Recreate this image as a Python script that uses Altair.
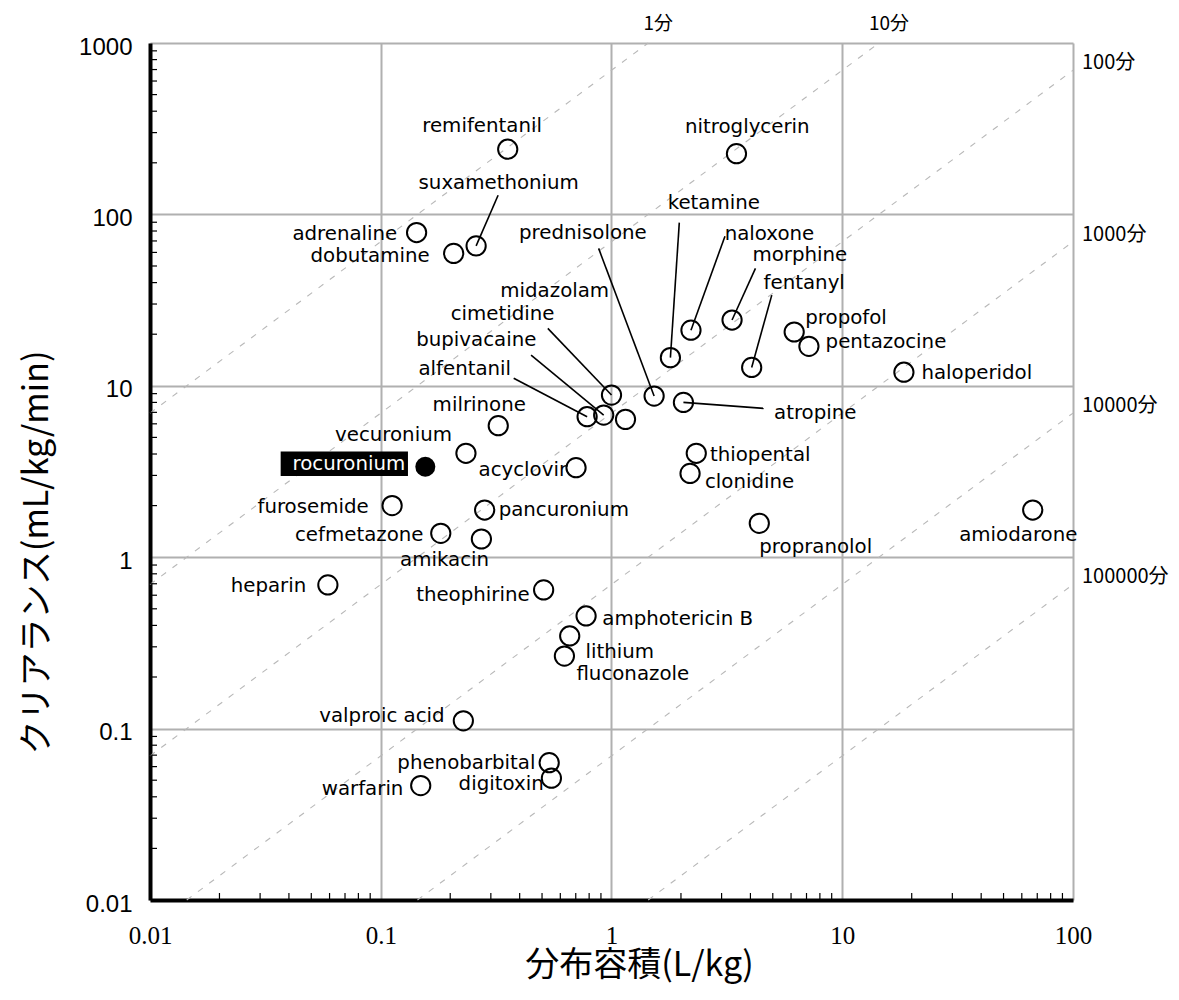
import altair as alt
import pandas as pd

# ---------------- data ----------------
drugs = ["remifentanil", "nitroglycerin", "adrenaline", "dobutamine", "suxamethonium",
         "prednisolone", "ketamine", "naloxone", "morphine", "fentanyl",
         "propofol", "pentazocine", "haloperidol", "midazolam", "cimetidine",
         "bupivacaine", "alfentanil", "atropine", "milrinone", "vecuronium",
         "rocuronium", "acyclovir", "thiopental", "clonidine", "furosemide",
         "pancuronium", "cefmetazone", "amikacin", "propranolol", "amiodarone",
         "heparin", "theophirine", "amphotericin B", "lithium", "fluconazole",
         "valproic acid", "phenobarbital", "digitoxin", "warfarin"]
vd = [0.355, 3.48, 0.143, 0.207, 0.259,
      1.53, 1.80, 2.21, 3.33, 4.05,
      6.19, 7.17, 18.5, 1.15, 1.00,
      0.925, 0.784, 2.05, 0.323, 0.234,
      0.156, 0.702, 2.33, 2.19, 0.112,
      0.282, 0.182, 0.273, 4.37, 66.9,
      0.059, 0.508, 0.776, 0.659, 0.625,
      0.228, 0.537, 0.549, 0.149]
cl = [240, 226, 78.4, 59.2, 65.5,
      8.71, 14.6, 21.1, 24.2, 12.8,
      20.6, 17.0, 12.0, 6.37, 8.83,
      6.75, 6.6, 8.0, 5.85, 4.04,
      3.37, 3.33, 4.04, 3.08, 2.0,
      1.885, 1.378, 1.277, 1.577, 1.885,
      0.689, 0.644, 0.454, 0.347, 0.265,
      0.111, 0.0633, 0.0514, 0.0465]

# label placement (pixel offsets from the point) and alignment
label_dx = [-25.6, 10.8, -19.3, -24, 22.6,
            -71.3, 43.4, 33.7, 20.4, 11.9,
            11.1, 16.7, 17.5, -70.8, -57,
            -67.3, -76, 90.6, -19, -14,
            -20, -9, 13.7, 14.9, -23.4,
            14, -17.3, -36.8, 0, -14.4,
            -21.6, -14, 16.2, 15.7, 12,
            -18.7, -13.7, -7.7, -17.3]
label_dy = [-23, -26.6, 1, 2.4, -62.4,
            -162.7, -154.4, -96.7, -65, -84,
            -14.4, -4.3, 1, -128.6, -81,
            -75, -47.4, 11, -20.7, -18.3,
            -2.4, 2.3, 1.7, 8.4, 1,
            0, 1.7, 21, 24, 25,
            1, 5, 3.3, 15.7, 18,
            -4.7, 0, 5.7, 3.6]
label_align = ["center", "center", "right", "right", "center",
               "center", "center", "left", "left", "left",
               "left", "left", "left", "center", "right",
               "right", "right", "left", "center", "right",
               "right", "right", "left", "left", "right",
               "left", "right", "center", "left", "center",
               "right", "right", "left", "left", "left",
               "right", "right", "right", "right"]

# leader lines: drug and start offset (pixels from the point)
leader_drug = ["suxamethonium", "prednisolone", "ketamine", "naloxone", "morphine",
               "fentanyl", "cimetidine", "bupivacaine", "alfentanil", "atropine"]
leader_sx = [22, -55.5, 8.9, 34, 23.4, 20.1, -63.7, -72.6, -73.4, 80.2]
leader_sy = [-50.7, -147.7, -135, -94, -51.7, -72.3, -66.7, -60, -38.4, 6]

# half-life reference lines (minutes)
tau = [1, 10, 100, 1000, 10000, 100000]
tau_labels = ["1分", "10分", "100分", "1000分", "10000分", "100000分"]
x_ticks = [0.01, 0.1, 1, 10, 100]
y_ticks = [0.01, 0.1, 1, 10, 100, 1000]

# ---------------- layout ----------------
W, H = 923, 857
DECX, DECY = W / 4, H / 5
FONT = "DejaVu Sans"
JP = "Noto Sans CJK JP"

df = pd.DataFrame({"drug": drugs, "vd": vd, "cl": cl,
                   "dx": label_dx, "dy": label_dy, "align": label_align})
df["lx"] = df["vd"] * 10 ** (df["dx"] / DECX)
df["ly"] = df["cl"] * 10 ** (-df["dy"] / DECY)

lead = pd.DataFrame({"drug": leader_drug, "sx": leader_sx, "sy": leader_sy})
lead = lead.merge(df[["drug", "vd", "cl"]], on="drug")
lead["vd2"] = lead["vd"] * 10 ** (lead["sx"] / DECX)
lead["cl2"] = lead["cl"] * 10 ** (-lead["sy"] / DECY)

K = 1000 * 0.6931
rows = []
for t, lab in zip(tau, tau_labels):
    x0, y0 = 0.01, K * 0.01 / t
    if y0 < 0.01:
        x0, y0 = 0.01 * t / K, 0.01
    x1, y1 = 100.0, K * 100 / t
    if y1 > 1000:
        x1, y1 = 1000 * t / K, 1000.0
    rows.append({"vd": x0, "cl": y0, "vd2": x1, "cl2": y1, "lab": lab, "top": y1 >= 1000})
tl = pd.DataFrame(rows)

minors = [k * 10 ** d for d in range(-2, 3) for k in range(2, 10)]
minx = pd.DataFrame({"vd": [m for m in minors if m < 100]})
miny = pd.DataFrame({"cl": minors})

xs = alt.Scale(type="log", domain=[0.01, 100], nice=False)
ys = alt.Scale(type="log", domain=[0.01, 1000], nice=False)
XT = "分布容積(L/kg)"
YT = "クリアランス(mL/kg/min)"

x_axis = alt.Axis(values=x_ticks, format="~g", grid=True, gridColor="#b0b0b0", gridWidth=2,
                  domainColor="black", domainWidth=4, ticks=False, tickSize=0,
                  labelFont="Liberation Sans Narrow", labelFontSize=25, labelColor="black",
                  labelPadding=35, labelBaseline="middle", labelFlush=False, labelOverlap=False,
                  titleFont=JP, titleFontSize=34, titleFontWeight="normal", titleColor="black",
                  titleX=489, titleY=65, titleAlign="center", titleBaseline="middle")
y_axis = alt.Axis(values=y_ticks, format="~g", grid=True, gridColor="#b0b0b0", gridWidth=2,
                  domainColor="black", domainWidth=4, ticks=False, tickSize=0,
                  labelFont="Liberation Sans", labelFontSize=24, labelColor="black",
                  labelPadding=18, labelOffset=4, labelBaseline="middle", labelOverlap=False,
                  titleFont=JP, titleFontSize=34, titleFontWeight="normal", titleColor="black",
                  titleX=-113, titleY=509, titleAngle=270, titleAlign="center",
                  titleBaseline="middle")


def X(f):
    return alt.X(f"{f}:Q", scale=xs, axis=x_axis, title=XT)


def Y(f):
    return alt.Y(f"{f}:Q", scale=ys, axis=y_axis, title=YT)


points = alt.Chart(df[df.drug != "rocuronium"]).mark_point(
    shape="circle", size=370, filled=False, stroke="black", strokeWidth=2, opacity=1
).encode(x=X("vd"), y=Y("cl"))

roc = df[df.drug == "rocuronium"]
roc_pt = alt.Chart(roc).mark_point(
    shape="circle", size=400, filled=True, color="black", opacity=1
).encode(x=X("vd"), y=Y("cl"))
roc_box = alt.Chart(roc).mark_point(
    shape="M-1,-0.191L1,-0.191L1,0.191L-1,0.191Z", size=16205, filled=True,
    color="black", opacity=1, xOffset=-81, yOffset=-3
).encode(x=X("vd"), y=Y("cl"))

dashes = alt.Chart(tl).mark_rule(color="#b8b8b8", strokeWidth=1.1, strokeDash=[6, 8]).encode(
    x=X("vd"), y=Y("cl"), x2=alt.X2("vd2"), y2=alt.Y2("cl2"))

ytick = alt.Chart(miny).mark_rule(color="black", strokeWidth=1.2).encode(
    y=Y("cl"), x=alt.value(0), x2=alt.value(7))
xtick = alt.Chart(minx).mark_rule(color="black", strokeWidth=1.2).encode(
    x=X("vd"), y=alt.value(H - 7), y2=alt.value(H))

leaders = alt.Chart(lead).mark_rule(color="black", strokeWidth=1.6).encode(
    x=X("vd"), y=Y("cl"), x2=alt.X2("vd2"), y2=alt.Y2("cl2"))

texts = []
for a in ["left", "center", "right"]:
    sub = df[(df["align"] == a) & (df.drug != "rocuronium")]
    texts.append(alt.Chart(sub).mark_text(
        align=a, baseline="middle", font=FONT, fontSize=19.8, color="black"
    ).encode(x=X("lx"), y=Y("ly"), text="drug:N"))
roc_txt = alt.Chart(roc).mark_text(
    align="right", baseline="middle", font=FONT, fontSize=19.8, color="white"
).encode(x=X("lx"), y=Y("ly"), text="drug:N")

top_lab = alt.Chart(tl[tl["top"]]).mark_text(
    align="center", baseline="middle", font=JP, fontSize=19, color="black", dx=10
).encode(x=X("vd2"), y=alt.value(-19), text="lab:N")
right_lab = alt.Chart(tl[~tl["top"]]).mark_text(
    align="left", baseline="middle", font=JP, fontSize=20, color="black", dy=-7
).encode(x=alt.value(W + 9), y=Y("cl2"), text="lab:N")

chart = alt.layer(
    dashes, ytick, xtick, leaders, points, roc_box, roc_pt, *texts, roc_txt, top_lab, right_lab
).properties(
    width=W, height=H,
    autosize=alt.AutoSizeParams(type="none"),
    padding={"left": 142, "top": 35, "right": 98, "bottom": 90},
).configure_view(stroke=None)

chart.save("out.html", embed_options={"renderer": "svg", "actions": False})
